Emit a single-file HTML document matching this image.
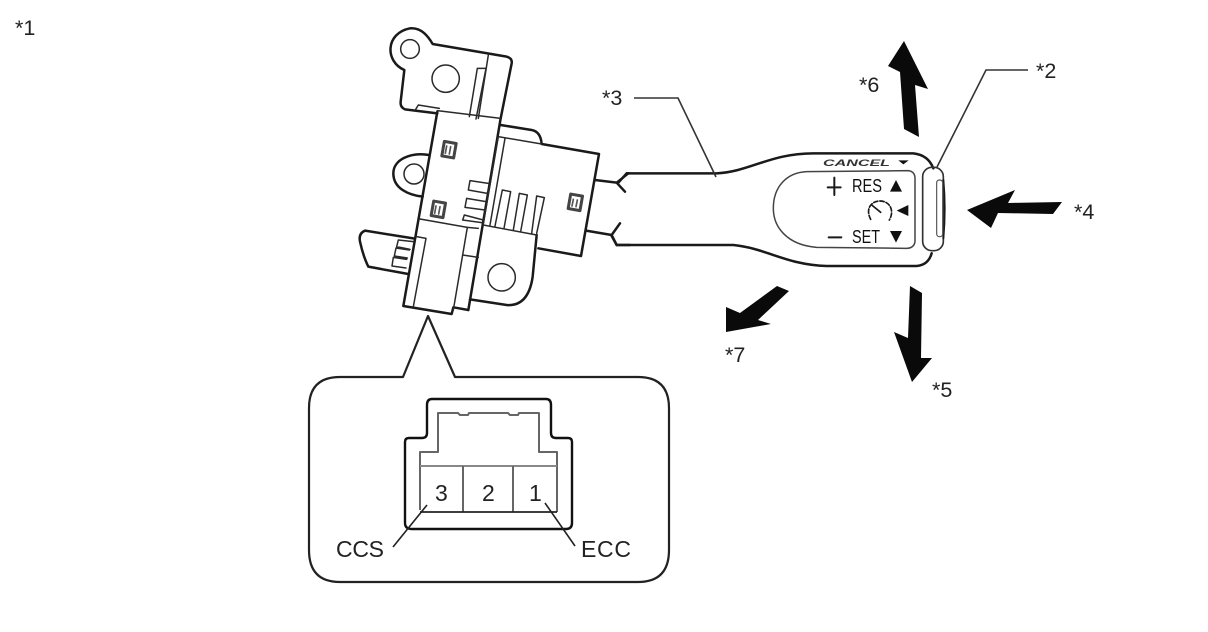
<!DOCTYPE html>
<html>
<head>
<meta charset="utf-8">
<style>
html,body{margin:0;padding:0;background:#fff;}
svg{display:block;filter:blur(0.35px);}
text{font-family:"Liberation Sans",sans-serif;fill:#222;}
</style>
</head>
<body>
<svg width="1208" height="632" viewBox="0 0 1208 632" xmlns="http://www.w3.org/2000/svg">
<rect width="1208" height="632" fill="#fff"/>

<!-- Switch body -->
<g transform="translate(350,20) scale(0.33333)" fill="none" stroke="#1a1a1a" stroke-linejoin="round" stroke-linecap="round">
  <g stroke-width="7.5">
    <path d="M262,280 L165,268 Q150,262 152,245 L163,150 C105,125 105,40 180,25 C215,22 235,50 248,72 L470,110 Q488,115 485,130 L452,295"/>
    <path d="M238,405 C180,395 130,420 130,460 C130,505 175,525 218,530"/>
    <path d="M262,275 L160,858 L305,882 L310,862 L355,870"/>
    <path d="M452,315 L545,330 Q572,335 575,372 L747,402 L693,708 L565,685"/>
    <path d="M452,295 L355,870"/>
    <path d="M560,645 L548,770 Q535,860 470,855 L360,838"/>
    <path d="M190,655 L45,632 Q25,640 30,665 Q40,710 55,740 L175,762"/>
    <path d="M735,480 L800,488 L835,460 M800,488 L825,515"/>
    <path d="M708,632 L785,645 L810,610 M785,645 L800,675 L840,675"/>
  </g>
  <g stroke-width="4.5" stroke="#2a2a2a">
    <circle cx="180" cy="87" r="28"/>
    <circle cx="287" cy="176" r="41"/>
    <circle cx="192" cy="462" r="30"/>
    <circle cx="455" cy="772" r="41"/>
    <path d="M415,105 L385,295"/>
    <path d="M358,290 L382,145 L408,145 L378,297"/>
    <path d="M197,268 L205,255 L268,265"/>
    <path d="M262,272 L452,295"/>
    <path d="M445,350 L575,372"/>
    <path d="M445,350 L400,610 M465,355 L420,615"/>
    <path d="M415,490 L360,482 L355,510 L412,520"/>
    <path d="M408,545 L350,535 L345,562 L405,570"/>
    <path d="M400,600 L343,585 L338,600 L395,608"/>
    <path d="M435,618 L457,510 L482,515 L462,625"/>
    <path d="M490,630 L508,520 L532,525 L512,635"/>
    <path d="M545,640 L560,528 L583,533 L560,640"/>
    <path d="M400,615 L560,645"/>
    <path d="M210,597 L352,622 L310,870"/>
    <path d="M385,625 L352,622"/>
    <path d="M338,705 L385,712"/>
    <path d="M200,650 L228,655 L190,860"/>
    <path d="M190,665 L145,660 L140,680 L180,688 M178,690 L138,684 L133,708 L172,714 M170,718 L130,712 L126,738 L168,744"/>
  </g>
  <g fill="#fff" stroke="#444" stroke-width="9">
    <rect x="279" y="367" width="36" height="44" transform="rotate(10 297 389)"/>
    <rect x="247" y="546" width="36" height="44" transform="rotate(10 265 568)"/>
    <rect x="658" y="525" width="36" height="44" transform="rotate(10 676 547)"/>
  </g>
  <g stroke="#555" stroke-width="5">
    <path d="M290,378 L286,400 M302,380 L298,402"/>
    <path d="M258,558 L254,580 M270,560 L266,582"/>
    <path d="M670,538 L666,558 M682,540 L678,560"/>
  </g>
</g>

<!-- Lever -->
<g transform="translate(600,130) scale(0.33333)" fill="none" stroke="#1a1a1a" stroke-linejoin="round" stroke-linecap="round">
  <g stroke-width="7.5">
    <path d="M80,130 L350,130 C450,125 510,70 640,70 L940,70 Q985,75 1000,115"/>
    <path d="M50,345 L400,345 C500,355 560,405 680,408 L950,408 Q985,405 995,370"/>
    <path d="M80,130 L55,158 M50,345 L35,318"/>
  </g>
  <path stroke-width="4.5" stroke="#444" d="M620,125 L925,122 Q945,125 945,145 L945,335 Q942,355 920,355 L650,352 C560,345 520,290 520,235 C520,170 560,128 620,125Z"/>
  <rect x="968" y="112" width="62" height="250" rx="28" stroke-width="5" stroke="#333"/>
  <path stroke-width="6" d="M1030,150 Q1038,235 1030,325"/>
  <rect x="1010" y="150" width="18" height="170" rx="8" stroke-width="3.5" stroke="#555"/>
  <path stroke-width="6" d="M703,143 L703,195 M683,172 L722,172"/>
  <path stroke-width="6" d="M686,322 L724,322"/>
  <g fill="#111" stroke="none">
    <polygon points="888,150 906,185 870,185"/>
    <polygon points="925,225 925,258 890,242"/>
    <polygon points="870,303 906,303 888,338"/>
    <polygon points="895,91 926,91 910,103"/>
  </g>
  <path stroke-width="5" stroke-dasharray="13 6" d="M812,268 C795,235 815,213 840,213 C868,213 885,240 868,270"/>
  <path stroke-width="5" d="M815,225 L842,247"/>
</g>
<text x="823" y="166" font-size="9" font-style="italic" textLength="67" lengthAdjust="spacingAndGlyphs" style="fill:#333;font-weight:bold">CANCEL</text>
<text x="852" y="192" font-size="18" textLength="30" lengthAdjust="spacingAndGlyphs" style="fill:#111">RES</text>
<text x="852" y="243" font-size="18" textLength="28" lengthAdjust="spacingAndGlyphs" style="fill:#111">SET</text>

<!-- Arrows -->
<g fill="#0a0a0a">
  <polygon points="904,41 888,66 900,72 904,129 919,137 915,85 928,89"/>
  <polygon points="1015,190 967,210 991,228 998,213 1053,214 1062,202 1008,203"/>
  <polygon points="910,286 922,293 921,358 932,358 912,382 894,332 908,338"/>
  <polygon points="777,286 789,291 758,320 771,324 726,332 726,307 740,313"/>
</g>

<!-- Leaders -->
<g fill="none" stroke="#333" stroke-width="1.6">
  <path d="M634,98 L678,98 L716,177"/>
  <path d="M1028,70 L986,70 L937,167"/>
</g>

<!-- Callout -->
<path d="M403,377 L428,316 L455,377 L638,377 Q669,377 669,408 L669,550 Q669,582 638,582 L340,582 Q309,582 309,550 L309,408 Q309,377 340,377 Z" fill="#fff" stroke="#222" stroke-width="2.2" stroke-linejoin="round"/>

<!-- Connector -->
<g fill="none" stroke-linejoin="round">
  <path d="M412,529 Q405,529 405,523 L405,442 Q405,438 409,438 L422,438 Q427,438 427,433 L427,405 Q427,399 432,399 L546,399 Q551,399 551,405 L551,433 Q551,438 556,438 L568,438 Q572,438 572,442 L572,523 Q572,529 566,529 Z" stroke="#111" stroke-width="2.4"/>
  <path d="M420,510 L420,452 L438,452 L438,413 L458,413 L460,415 L468,415 L469,413 L508,413 L510,415 L518,415 L519,413 L539,413 L539,452 L557,452 L557,512" stroke="#666" stroke-width="2"/>
  <path d="M420,466 L557,466" stroke="#888" stroke-width="2"/>
  <path d="M463,466 L463,512 M513,466 L513,512" stroke="#666" stroke-width="2"/>
  <path d="M420,512 L557,512" stroke="#222" stroke-width="1.8"/>
  <path d="M393,547 L427,505" stroke="#222" stroke-width="1.6"/>
  <path d="M545,503 L575,546" stroke="#222" stroke-width="1.6"/>
</g>

<!-- Labels -->
<g font-size="21.5">
  <text x="15" y="35">*1</text>
  <text x="602" y="105">*3</text>
  <text x="1036" y="78">*2</text>
  <text x="859" y="92">*6</text>
  <text x="1074" y="219">*4</text>
  <text x="932" y="397">*5</text>
  <text x="725" y="362">*7</text>
  <text x="435" y="501" font-size="23">3</text>
  <text x="482" y="501" font-size="23">2</text>
  <text x="529" y="501" font-size="23">1</text>
  <text x="336" y="557" font-size="23" textLength="48">CCS</text>
  <text x="581" y="557" font-size="23" textLength="50">ECC</text>
</g>
</svg>
</body>
</html>
